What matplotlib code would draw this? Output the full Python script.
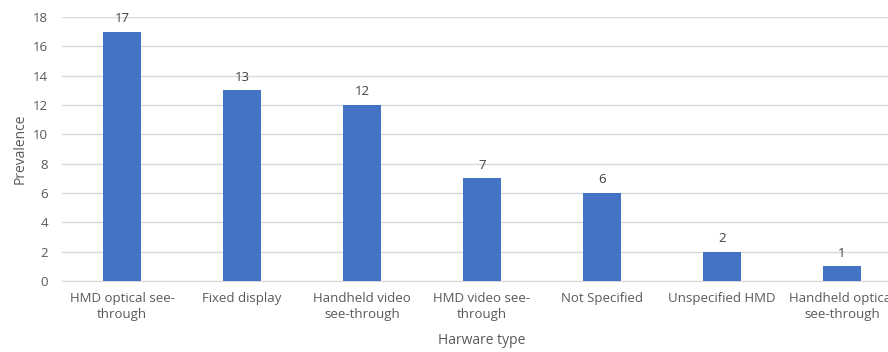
import matplotlib.pyplot as plt

categories = ['HMD optical see-\nthrough', 'Fixed display', 'Handheld video\nsee-through',
              'HMD video see-\nthrough', 'Not Specified', 'Unspecified HMD',
              'Handheld optical\nsee-through']
counts = [17, 13, 12, 7, 6, 2, 1]

plt.rcParams['font.family'] = ['Open Sans', 'DejaVu Sans']
text_col = '#595959'

fig = plt.figure(figsize=(8.88, 3.52), dpi=100)
# plot area runs past the right edge of the figure
ax = fig.add_axes([62/888, 71/352, 840/888, 264/352])

x = range(len(categories))
bars = ax.bar(x, counts, width=0.32, color='#4472C4', zorder=3)
for b, v in zip(bars, counts):
    ax.text(b.get_x() + b.get_width()/2, v + 0.45, str(v), ha='center', va='bottom',
            fontsize=9.5, color='#404040')

ax.set_xlim(-0.5, 6.5)
ax.set_ylim(0, 18)
ax.set_yticks(range(0, 19, 2))
ax.set_xticks(list(x))
ax.set_xticklabels(categories, fontsize=9.5, color=text_col, linespacing=1.25)
ax.tick_params(axis='y', labelsize=9.5, labelcolor=text_col, length=0, pad=10)
ax.tick_params(axis='x', length=0, pad=8)
ax.grid(axis='y', color='#D9D9D9', linewidth=1, zorder=0)
for s in ['top', 'right', 'left']:
    ax.spines[s].set_visible(False)
ax.spines['bottom'].set_color('#D9D9D9')

ax.set_ylabel('Prevalence', fontsize=10, color=text_col, labelpad=4)
fig.text(482/888, 1 - 341/352, 'Harware type', ha='center', va='center',
         fontsize=10, color=text_col)

fig.savefig('out.png', dpi=100)
